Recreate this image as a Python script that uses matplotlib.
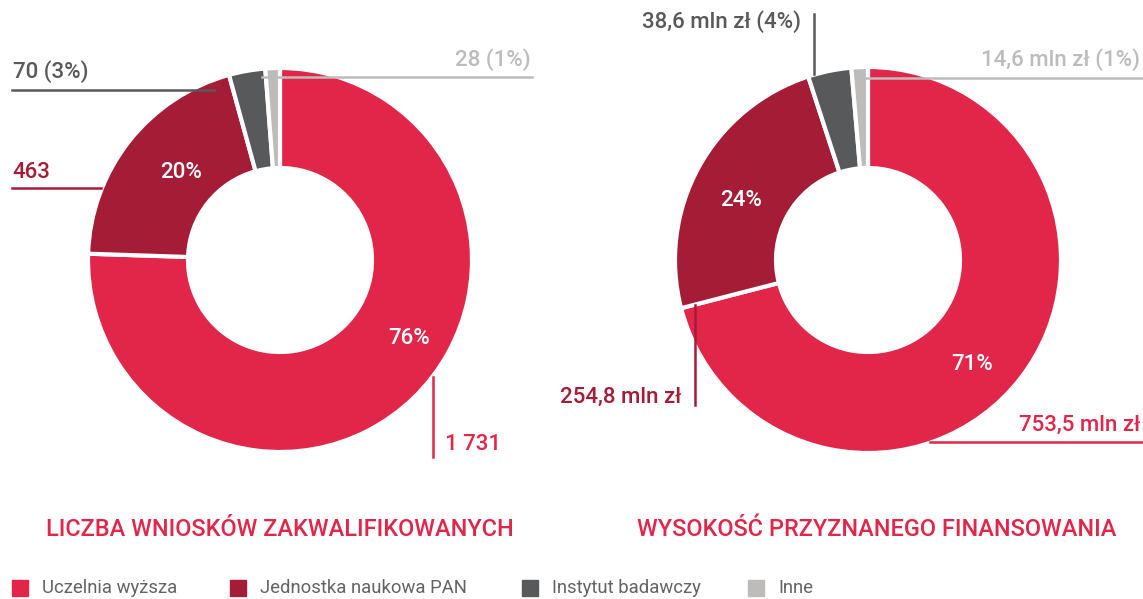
import matplotlib
matplotlib.use("Agg")
import matplotlib.pyplot as plt
from matplotlib.patches import Rectangle

plt.rcParams['font.family'] = ['Roboto', 'DejaVu Sans']

# data
categories = ["Uczelnia wyższa", "Jednostka naukowa PAN", "Instytut badawczy", "Inne"]
colors = ["#E1264A", "#A51C36", "#58595B", "#BDBCBB"]

wnioski = [1731, 463, 70, 28]
wnioski_labels = ["1 731", "463", "70 (3%)", "28 (1%)"]

finanse = [753.5, 254.8, 38.6, 14.6]
finanse_labels = ["753,5 mln zł", "254,8 mln zł", "38,6 mln zł (4%)", "14,6 mln zł (1%)"]

titles = ["LICZBA WNIOSKÓW ZAKWALIFIKOWANYCH", "WYSOKOŚĆ PRZYZNANEGO FINANSOWANIA"]

W, H = 1143, 599
fig = plt.figure(figsize=(W / 100, H / 100), dpi=100)
ax = fig.add_axes([0, 0, 1, 1])

LBL = dict(fontsize=16, fontweight="medium", va="center")


def Y(y):
    # pixel row (from top) -> data y
    return H - y


def donut(values, cx, cy, r, hole):
    ax.pie(values, colors=colors, startangle=90, counterclock=False,
           center=(cx, Y(cy)), radius=r,
           wedgeprops=dict(width=r - hole, edgecolor="white", linewidth=3))


def pct(values):
    tot = sum(values)
    return [f"{round(v / tot * 100)}%" for v in values]


# left donut
donut(wnioski, 280, 260, 192, 92)
p = pct(wnioski)
ax.text(409, Y(338), p[0], color="white", ha="center", **LBL)
ax.text(181, Y(172), p[1], color="white", ha="center", **LBL)

ax.plot([433, 433], [Y(377), Y(457)], color=colors[0], lw=1.8, zorder=5)
ax.text(445, Y(445), wnioski_labels[0], color=colors[0], ha="left", **LBL)
ax.plot([12, 101], [Y(188), Y(188)], color=colors[1], lw=1.8, zorder=5)
ax.text(12, Y(172), wnioski_labels[1], color=colors[1], ha="left", **LBL)
ax.plot([12, 214], [Y(90), Y(90)], color=colors[2], lw=1.8, zorder=5)
ax.text(13, Y(72), wnioski_labels[2], color=colors[2], ha="left", **LBL)
ax.plot([262, 532], [Y(77), Y(77)], color=colors[3], lw=1.8, zorder=5)
ax.text(531, Y(60), wnioski_labels[3], color=colors[3], ha="right", **LBL)

# right donut
donut(finanse, 868, 260, 193, 92)
p = pct(finanse)
ax.text(972, Y(364), p[0], color="white", ha="center", **LBL)
ax.text(741, Y(200), p[1], color="white", ha="center", **LBL)

ax.plot([930, W], [Y(442), Y(442)], color=colors[0], lw=1.8, zorder=5)
ax.text(1140, Y(425), finanse_labels[0], color=colors[0], ha="right", **LBL)
ax.plot([695, 695], [Y(305), Y(405)], color=colors[1], lw=1.8, zorder=5)
ax.text(681, Y(397), finanse_labels[1], color=colors[1], ha="right", **LBL)
ax.plot([814, 814], [Y(14), Y(74)], color=colors[2], lw=1.8, zorder=5)
ax.text(801, Y(22), finanse_labels[2], color=colors[2], ha="right", **LBL)
ax.plot([856, W], [Y(78), Y(78)], color=colors[3], lw=1.8, zorder=5)
ax.text(1140, Y(60), finanse_labels[3], color=colors[3], ha="right", **LBL)

# titles
ax.text(280, Y(530), titles[0], color=colors[0], fontsize=16.9, fontweight="medium",
        ha="center", va="center")
ax.text(877, Y(530), titles[1], color=colors[0], fontsize=16.9, fontweight="medium",
        ha="center", va="center")

# legend
legend_x = [12, 230, 522, 748]
for x, c, name in zip(legend_x, colors, categories):
    ax.add_patch(Rectangle((x, Y(596)), 16, 16, color=c))
    ax.text(x + 30, Y(588), name, color="#626365", fontsize=13.3, ha="left", va="center")

ax.set_xlim(0, W)
ax.set_ylim(0, H)
ax.set_aspect("equal")
ax.axis("off")

fig.savefig("out.png", dpi=100)
